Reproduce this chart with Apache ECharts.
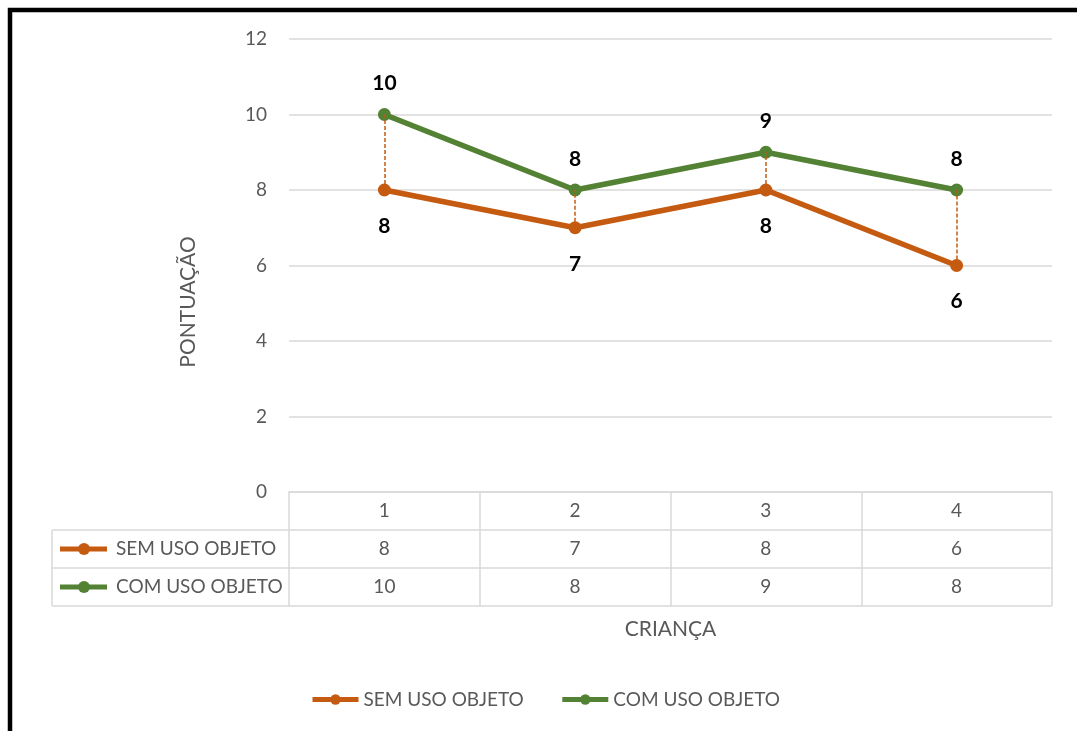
<!DOCTYPE html>
<html>
<head>
<meta charset="utf-8">
<script src="https://cdn.jsdelivr.net/npm/echarts@6/dist/echarts.min.js"></script>
<style>
  html, body { margin: 0; padding: 0; background: #fff; }
  #chart { width: 1077px; height: 731px; }
</style>
</head>
<body>
<div id="chart"></div>
<script>
// Pontuação por criança, com e sem uso de objeto
const categories = ['1', '2', '3', '4'];
const semUso = [8, 7, 8, 6];
const comUso = [10, 8, 9, 8];
const seriesNames = ['SEM USO OBJETO', 'COM USO OBJETO'];
const yTicks = { min: 0, max: 12, step: 2 };

const ORANGE = '#C55A11';
const GREEN = '#548235';
const GREY_TEXT = '#595959';
const GRID_LINE = '#d9d9d9';
const FONT = 'Lato';

const G = { left: 289, right: 25, top: 39, bottom: 239 };
const W = 1077, H = 731;
const axisY = H - G.bottom;
const rowH = 38;
const tableLeft = 52;
const tableRight = W - G.right;

const chart = echarts.init(document.getElementById('chart'), null, { renderer: 'canvas' });

// Data table frame: horizontal row rules and the left header column
const tableGraphics = [];
for (let k = 1; k <= 3; k++) {
  tableGraphics.push({
    type: 'line', silent: true,
    shape: { x1: tableLeft, y1: axisY + rowH * k, x2: tableRight, y2: axisY + rowH * k },
    style: { stroke: GRID_LINE, lineWidth: 1.5 }
  });
}
tableGraphics.push({
  type: 'line', silent: true,
  shape: { x1: tableLeft, y1: axisY + rowH, x2: tableLeft, y2: axisY + rowH * 3 },
  style: { stroke: GRID_LINE, lineWidth: 1.5 }
});
// Row headers with series key
[[seriesNames[0], ORANGE], [seriesNames[1], GREEN]].forEach(([name, color], r) => {
  const cy = axisY + rowH * (r + 1.5);
  tableGraphics.push({
    type: 'line', silent: true,
    shape: { x1: 60, y1: cy, x2: 107, y2: cy },
    style: { stroke: color, lineWidth: 5 }
  });
  tableGraphics.push({
    type: 'circle', silent: true,
    shape: { cx: 84, cy: cy, r: 6 },
    style: { fill: color }
  });
  tableGraphics.push({
    type: 'text', silent: true,
    x: 116, y: cy,
    style: { text: name, fill: GREY_TEXT, font: `19px ${FONT}`, verticalAlign: 'middle', align: 'left' }
  });
});
// Vertical axis title
tableGraphics.push({
  type: 'text', silent: true,
  x: 188, y: 302, rotation: Math.PI / 2,
  style: { text: 'PONTUAÇÃO', fill: GREY_TEXT, font: `21px ${FONT}`, align: 'center', verticalAlign: 'middle' }
});
// Outer frame
tableGraphics.push({
  type: 'rect', silent: true,
  shape: { x: 10, y: 10, width: W + 20, height: H + 20 },
  style: { fill: 'none', stroke: '#000', lineWidth: 4.5 }
});

const option = {
  backgroundColor: '#fff',
  animation: false,
  textStyle: { fontFamily: FONT },
  grid: { left: G.left, right: G.right, top: G.top, bottom: G.bottom, containLabel: false },
  legend: {
    data: seriesNames,
    left: 305, top: 685,
    itemWidth: 46, itemHeight: 13, itemGap: 36,
    lineStyle: { width: 5 },
    textStyle: { fontSize: 19, color: GREY_TEXT, fontFamily: FONT }
  },
  xAxis: {
    type: 'category',
    data: categories,
    boundaryGap: true,
    name: 'CRIANÇA',
    nameLocation: 'middle',
    nameGap: 127,
    nameTextStyle: { fontSize: 21, color: GREY_TEXT, fontFamily: FONT },
    axisLine: { lineStyle: { color: GRID_LINE, width: 1.5 } },
    axisTick: { show: true, length: rowH * 3, lineStyle: { color: GRID_LINE, width: 1.5 } },
    axisLabel: {
      margin: 0,
      color: GREY_TEXT,
      fontSize: 19,
      fontFamily: FONT,
      lineHeight: rowH,
      formatter: (v, i) => `${v}\n${semUso[i]}\n${comUso[i]}`
    },
    splitLine: { show: false }
  },
  yAxis: {
    type: 'value',
    min: yTicks.min, max: yTicks.max, interval: yTicks.step,
    axisLine: { show: false },
    axisTick: { show: false },
    axisLabel: { margin: 22, color: GREY_TEXT, fontSize: 19, fontFamily: FONT },
    splitLine: { lineStyle: { color: GRID_LINE, width: 1.5 } }
  },
  series: [
    {
      name: seriesNames[0],
      type: 'line',
      data: semUso,
      color: ORANGE,
      symbol: 'circle',
      symbolSize: 13,
      lineStyle: { width: 5.5, color: ORANGE },
      itemStyle: { color: ORANGE },
      label: {
        show: true, position: 'bottom', distance: 19,
        color: '#000', fontWeight: 'bold', fontSize: 21, fontFamily: FONT
      },
      markLine: {
        silent: true,
        symbol: 'none',
        label: { show: false },
        lineStyle: { type: [4, 2], color: ORANGE, width: 1.5 },
        data: categories.map((c, i) => [
          { coord: [c, semUso[i]] },
          { coord: [c, comUso[i]] }
        ])
      },
      z: 3
    },
    {
      name: seriesNames[1],
      type: 'line',
      data: comUso,
      color: GREEN,
      symbol: 'circle',
      symbolSize: 13,
      lineStyle: { width: 5.5, color: GREEN },
      itemStyle: { color: GREEN },
      label: {
        show: true, position: 'top', distance: 14,
        color: '#000', fontWeight: 'bold', fontSize: 21, fontFamily: FONT
      },
      z: 4
    }
  ],
  graphic: tableGraphics
};

chart.setOption(option);
</script>
</body>
</html>
